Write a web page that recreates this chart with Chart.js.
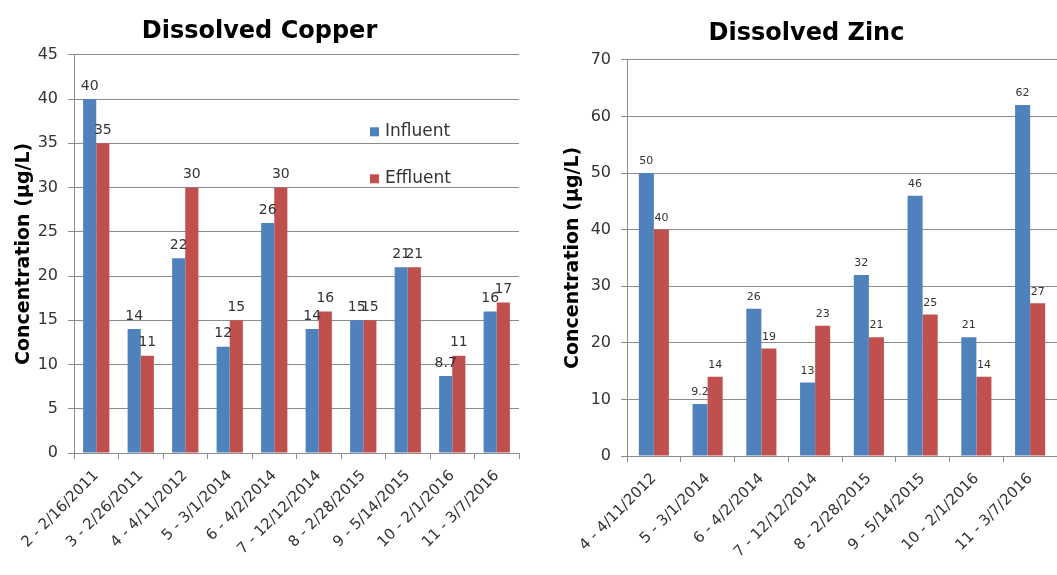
<!DOCTYPE html>
<html>
<head>
<meta charset="utf-8">
<script src="https://cdn.jsdelivr.net/npm/chart.js@4.4.0/dist/chart.umd.min.js"></script>
<style>
  html, body { margin: 0; padding: 0; background: #fff; }
  .box { position: absolute; top: 0; height: 575px; }
  #copperBox { left: 0; width: 530px; }
  #zincBox { left: 556px; width: 501px; }
</style>
</head>
<body>
<div class="box" id="copperBox"><canvas id="copperChart"></canvas></div>
<div class="box" id="zincBox"><canvas id="zincChart"></canvas></div>
<script>
// --- data ---
const copperLabels = ['2 - 2/16/2011', '3 - 2/26/2011', '4 - 4/11/2012', '5 - 3/1/2014', '6 - 4/2/2014',
    '7 - 12/12/2014', '8 - 2/28/2015', '9 - 5/14/2015', '10 - 2/1/2016', '11 - 3/7/2016'];
const copperInfluent = [40, 14, 22, 12, 26, 14, 15, 21, 8.7, 16];
const copperEffluent = [35, 11, 30, 15, 30, 16, 15, 21, 11, 17];

const zincLabels = ['4 - 4/11/2012', '5 - 3/1/2014', '6 - 4/2/2014', '7 - 12/12/2014',
    '8 - 2/28/2015', '9 - 5/14/2015', '10 - 2/1/2016', '11 - 3/7/2016'];
const zincInfluent = [50, 9.2, 26, 13, 32, 46, 21, 62];
const zincEffluent = [40, 14, 19, 23, 21, 25, 14, 27];

const BLUE = '#4f81bd';
const RED = '#c0504d';
const GRID = '#8c8c8c';
const FONT = "'DejaVu Sans', sans-serif";

// value labels above each bar
const valueLabels = {
    id: 'valueLabels',
    afterDatasetsDraw(chart, args, opts) {
        const ctx = chart.ctx;
        ctx.save();
        ctx.font = `${opts.size}px ${FONT}`;
        ctx.fillStyle = '#333';
        ctx.textAlign = 'center';
        ctx.textBaseline = 'bottom';
        chart.data.datasets.forEach((ds, i) => {
            chart.getDatasetMeta(i).data.forEach((bar, j) => {
                ctx.fillText(String(ds.data[j]), bar.x, bar.y - opts.gap);
            });
        });
        ctx.restore();
    }
};

// vertical legend sitting inside the plot area
const innerLegend = {
    id: 'innerLegend',
    afterDraw(chart, args, opts) {
        if (!opts.show) return;
        const ctx = chart.ctx;
        const a = chart.chartArea;
        ctx.save();
        ctx.font = `17px ${FONT}`;
        ctx.textBaseline = 'middle';
        ctx.textAlign = 'left';
        chart.data.datasets.forEach((ds, i) => {
            const x = a.left + opts.dx;
            const y = a.top + opts.dy + i * opts.step;
            ctx.fillStyle = ds.backgroundColor;
            ctx.fillRect(x, y - 4.5, 9, 9);
            ctx.fillStyle = '#333';
            ctx.fillText(ds.label, x + 15, y);
        });
        ctx.restore();
    }
};

function makeChart(id, cfg) {
    return new Chart(document.getElementById(id), {
        type: 'bar',
        data: {
            labels: cfg.labels,
            datasets: [
                { label: 'Influent', data: cfg.influent, backgroundColor: BLUE },
                { label: 'Effluent', data: cfg.effluent, backgroundColor: RED }
            ]
        },
        options: {
            responsive: true,
            maintainAspectRatio: false,
            animation: false,
            layout: { padding: { left: 0, right: cfg.padRight } },
            datasets: {
                bar: { categoryPercentage: cfg.catPct, barPercentage: 1.0 }
            },
            plugins: {
                legend: { display: false },
                tooltip: { enabled: false },
                title: {
                    display: true,
                    text: cfg.title,
                    color: '#000',
                    font: { family: FONT, size: 24, weight: 'bold' },
                    padding: { top: cfg.titleTop, bottom: cfg.titleBottom }
                },
                valueLabels: { size: cfg.labelSize, gap: 6 },
                innerLegend: { show: cfg.legend, dx: 296, dy: 77, step: 47 }
            },
            scales: {
                x: {
                    grid: { display: true, drawOnChartArea: false, offset: true, tickLength: 6, color: GRID },
                    border: { color: GRID },
                    ticks: {
                        autoSkip: false, minRotation: 45, maxRotation: 45, padding: 8,
                        color: '#333', font: { family: FONT, size: 15 }
                    },
                    afterFit(scale) { scale.height = cfg.xHeight; }
                },
                y: {
                    min: 0,
                    max: cfg.yMax,
                    grid: { color: GRID, tickLength: 6 },
                    border: { color: GRID },
                    ticks: {
                        stepSize: cfg.step, padding: 10,
                        color: '#333', font: { family: FONT, size: 16 }
                    },
                    title: {
                        display: true,
                        text: 'Concentration (µg/L)',
                        color: '#000',
                        font: { family: FONT, size: 19, weight: 'bold' },
                        padding: { top: cfg.yTitlePad, bottom: 0 }
                    },
                    afterFit(scale) { scale.width = cfg.yWidth; }
                }
            }
        },
        plugins: [valueLabels, innerLegend]
    });
}

makeChart('copperChart', {
    title: 'Dissolved Copper', labels: copperLabels,
    influent: copperInfluent, effluent: copperEffluent,
    yMax: 45, step: 5, catPct: 0.59, labelSize: 14,
    yWidth: 74, xHeight: 122, titleTop: 17, titleBottom: 9,
    yTitlePad: 13, padRight: 11, legend: true
});

makeChart('zincChart', {
    title: 'Dissolved Zinc', labels: zincLabels,
    influent: zincInfluent, effluent: zincEffluent,
    yMax: 70, step: 10, catPct: 0.56, labelSize: 11,
    yWidth: 71, xHeight: 119, titleTop: 19, titleBottom: 12,
    yTitlePad: 6, padRight: 0, legend: false
});
</script>
</body>
</html>
